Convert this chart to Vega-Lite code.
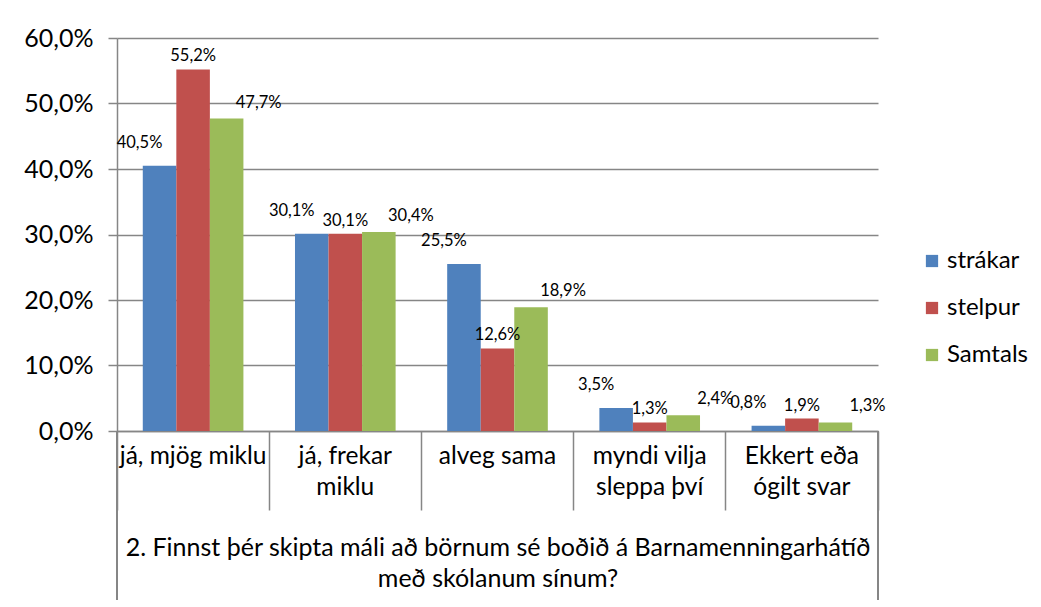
{
  "$schema": "https://vega.github.io/schema/vega-lite/v6.json",
  "width": 761,
  "height": 393,
  "autosize": "none",
  "padding": {"left": 117, "top": 38, "right": 163, "bottom": 176},
  "background": "white",
  "config": {
    "font": "Lato",
    "view": {"stroke": null},
    "locale": {"number": {"decimal": ",", "thousands": ".", "grouping": [3], "currency": ["", " kr."], "percent": "%"}}
  },
  "data": {
    "values": [
      {"cat": "já, mjög miklu", "series": "strákar", "value": 0.405},
      {"cat": "já, mjög miklu", "series": "stelpur", "value": 0.552},
      {"cat": "já, mjög miklu", "series": "Samtals", "value": 0.477},
      {"cat": "já, frekar miklu", "series": "strákar", "value": 0.301},
      {"cat": "já, frekar miklu", "series": "stelpur", "value": 0.301},
      {"cat": "já, frekar miklu", "series": "Samtals", "value": 0.304},
      {"cat": "alveg sama", "series": "strákar", "value": 0.255},
      {"cat": "alveg sama", "series": "stelpur", "value": 0.126},
      {"cat": "alveg sama", "series": "Samtals", "value": 0.189},
      {"cat": "myndi vilja sleppa því", "series": "strákar", "value": 0.035},
      {"cat": "myndi vilja sleppa því", "series": "stelpur", "value": 0.013},
      {"cat": "myndi vilja sleppa því", "series": "Samtals", "value": 0.024},
      {"cat": "Ekkert eða ógilt svar", "series": "strákar", "value": 0.008},
      {"cat": "Ekkert eða ógilt svar", "series": "stelpur", "value": 0.019},
      {"cat": "Ekkert eða ógilt svar", "series": "Samtals", "value": 0.013}
    ]
  },
  "encoding": {
    "x": {
      "field": "cat",
      "type": "nominal",
      "sort": ["já, mjög miklu", "já, frekar miklu", "alveg sama", "myndi vilja sleppa því", "Ekkert eða ógilt svar"],
      "scale": {"paddingInner": 0, "paddingOuter": 0},
      "axis": {
        "title": ["2. Finnst þér skipta máli að börnum sé boðið á Barnamenningarhátíð", "með skólanum sínum?"],
        "titleFont": "Lato",
        "titleFontSize": 25,
        "titleFontWeight": "normal",
        "titleColor": "black",
        "titlePadding": 25,
        "titleLineHeight": 31,
        "labelAngle": 0,
        "labelFontSize": 24.5,
        "labelColor": "black",
        "labelPadding": -66,
        "labelLineHeight": 31,
        "labelBaseline": "top",
        "labelExpr": "datum.value == 'já, frekar miklu' ? ['já, frekar', 'miklu'] : datum.value == 'myndi vilja sleppa því' ? ['myndi vilja', 'sleppa því'] : datum.value == 'Ekkert eða ógilt svar' ? ['Ekkert eða', 'ógilt svar'] : datum.value",
        "bandPosition": 1,
        "tickExtra": true,
        "tickSize": 79,
        "tickColor": "#868686",
        "tickWidth": 1.5,
        "domainColor": "#868686",
        "domainWidth": 1.5,
        "grid": false
      }
    },
    "y": {
      "field": "value",
      "type": "quantitative",
      "scale": {"domain": [0, 0.6], "nice": false},
      "axis": {
        "title": null,
        "format": ".1%",
        "values": [0, 0.1, 0.2, 0.3, 0.4, 0.5, 0.6],
        "labelFontSize": 25,
        "labelColor": "black",
        "labelPadding": 15,
        "tickSize": 9,
        "tickColor": "#868686",
        "tickWidth": 1.5,
        "domainColor": "#868686",
        "domainWidth": 1.5,
        "grid": true,
        "gridColor": "#868686",
        "gridWidth": 1.5
      }
    }
  },
  "layer": [
    {
      "mark": {"type": "bar"},
      "encoding": {
        "xOffset": {"field": "series", "type": "nominal", "sort": ["strákar", "stelpur", "Samtals"], "scale": {"paddingInner": 0, "paddingOuter": 0.7687}},
        "color": {
          "field": "series",
          "type": "nominal",
          "sort": ["strákar", "stelpur", "Samtals"],
          "scale": {"domain": ["strákar", "stelpur", "Samtals"], "range": ["#4F81BD", "#C0504D", "#9BBB59"]},
          "legend": {
            "title": null,
            "orient": "none",
            "legendX": 803,
            "legendY": 211,
            "symbolType": "square",
            "symbolSize": 150,
            "symbolStrokeWidth": 0,
            "labelFontSize": 24,
            "labelColor": "black",
            "labelOffset": 3,
            "rowPadding": 23,
            "padding": 0
          }
        }
      }
    },
    {
      "transform": [{"filter": "datum.series == 'strákar'"}],
      "mark": {"type": "text", "fontSize": 16.5, "dx": -20, "dy": -15, "baseline": "bottom", "color": "black"},
      "encoding": {
        "xOffset": {"datum": "strákar"},
        "text": {"field": "value", "type": "quantitative", "format": ".1%"}
      }
    },
    {
      "transform": [{"filter": "datum.series == 'stelpur'"}],
      "mark": {"type": "text", "fontSize": 16.5, "dx": 0, "dy": -5, "baseline": "bottom", "color": "black"},
      "encoding": {
        "xOffset": {"datum": "stelpur"},
        "text": {"field": "value", "type": "quantitative", "format": ".1%"}
      }
    },
    {
      "transform": [{"filter": "datum.series == 'Samtals'"}],
      "mark": {"type": "text", "fontSize": 16.5, "dx": 32, "dy": -8, "baseline": "bottom", "color": "black"},
      "encoding": {
        "xOffset": {"datum": "Samtals"},
        "text": {"field": "value", "type": "quantitative", "format": ".1%"}
      }
    },
    {
      "mark": {"type": "rule", "color": "#868686", "strokeWidth": 1.5},
      "encoding": {
        "x": {"datum": "já, mjög miklu", "bandPosition": 0},
        "y": {"datum": 0},
        "y2": {"datum": -0.258}
      }
    },
    {
      "mark": {"type": "rule", "color": "#868686", "strokeWidth": 1.5},
      "encoding": {
        "x": {"datum": "Ekkert eða ógilt svar", "bandPosition": 1},
        "y": {"datum": 0},
        "y2": {"datum": -0.258}
      }
    }
  ]
}
